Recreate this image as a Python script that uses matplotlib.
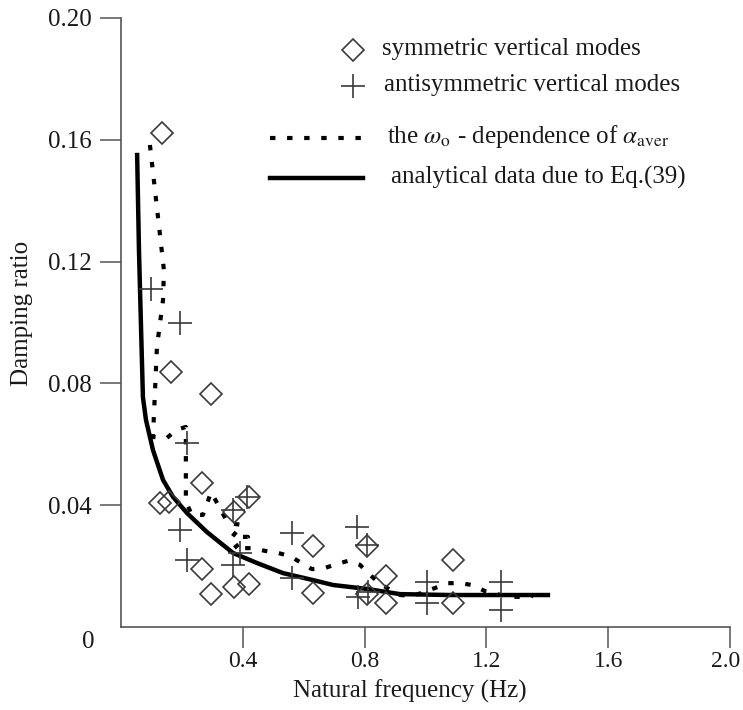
import numpy as np
import matplotlib.pyplot as plt
from matplotlib.lines import Line2D
from matplotlib.transforms import ScaledTranslation

plt.rcParams['font.family'] = ['Liberation Serif', 'DejaVu Serif']
plt.rcParams['mathtext.fontset'] = 'stix'

# symmetric vertical modes (diamonds)
sym_f = [0.135, 0.163, 0.296, 0.265, 0.128, 0.158, 0.422, 0.370, 0.632, 0.807,
         0.265, 0.296, 0.370, 0.422, 0.632, 0.807, 0.870, 0.870, 1.089, 1.089]
sym_d = [0.1622, 0.0838, 0.0765, 0.0472, 0.0406, 0.0411, 0.0428, 0.0379, 0.0266, 0.0266,
         0.0189, 0.0107, 0.0130, 0.0141, 0.0111, 0.0107, 0.0167, 0.0078, 0.0220, 0.0078]

# antisymmetric vertical modes (plus)
anti_f = [0.098, 0.194, 0.218, 0.194, 0.218, 0.367, 0.413, 0.367, 0.391, 0.561,
          0.561, 0.774, 0.807, 0.779, 0.812, 1.004, 1.004, 1.247, 1.247]
anti_d = [0.1109, 0.0999, 0.0605, 0.0319, 0.0220, 0.0384, 0.0428, 0.0204, 0.0242, 0.0308,
          0.0160, 0.0329, 0.0269, 0.0100, 0.0116, 0.0149, 0.0078, 0.0149, 0.0056]

# omega_0 dependence of alpha_aver (dotted)
avg_f = [0.095, 0.141, 0.138, 0.118, 0.105, 0.151, 0.181, 0.213, 0.213, 0.233,
         0.269, 0.296, 0.351, 0.397, 0.365, 0.417, 0.371, 0.433, 0.473, 0.516,
         0.555, 0.588, 0.627, 0.670, 0.709, 0.745, 0.785, 0.811, 0.844, 0.883,
         0.916, 0.959, 1.031, 1.074, 1.113, 1.153, 1.195, 1.271, 1.317, 1.353]
avg_d = [0.1583, 0.1172, 0.1074, 0.0920, 0.0624, 0.0621, 0.0647, 0.0657, 0.0411, 0.0368,
         0.0368, 0.0443, 0.0342, 0.0335, 0.0296, 0.0296, 0.0259, 0.0259, 0.0250, 0.0243,
         0.0233, 0.0213, 0.0190, 0.0194, 0.0207, 0.0217, 0.0204, 0.0177, 0.0148, 0.0122,
         0.0105, 0.0102, 0.0128, 0.0144, 0.0144, 0.0138, 0.0118, 0.0099, 0.0099, 0.0102]

# analytical data, Eq.(39) (solid)
eq_f = [0.053, 0.059, 0.066, 0.072, 0.082, 0.105, 0.138, 0.171, 0.217, 0.282,
        0.368, 0.447, 0.532, 0.631, 0.696, 0.808, 0.916, 1.080, 1.402]
eq_d = [0.1550, 0.1238, 0.0975, 0.0755, 0.0680, 0.0581, 0.0483, 0.0427, 0.0374, 0.0312,
        0.0243, 0.0210, 0.0177, 0.0154, 0.0138, 0.0125, 0.0108, 0.0105, 0.0105]

xticks = [0.4, 0.8, 1.2, 1.6, 2.0]
yticks = [0.04, 0.08, 0.12, 0.16, 0.20]

W, H = 743, 710
fig = plt.figure(figsize=(W / 100, H / 100), dpi=100)
L, R, B, T = 121, 730, 627, 18
ax = fig.add_axes([L / W, 1 - B / H, (R - L) / W, (B - T) / H])

gray = '#3a3a3a'
dotted = dict(color='black', lw=3.0, linestyle=(0, (1.3, 2.8)), dash_capstyle='butt')
solid = dict(color='black', lw=3.2)

ax.plot(eq_f, eq_d, **solid)
ax.plot(avg_f, avg_d, **dotted)
ax.plot(sym_f, sym_d, 'D', ms=11, mfc='none', mec=gray, mew=1.2)
ax.plot(anti_f, anti_d, '+', ms=17, mec=gray, mew=1.2)

ax.set_xlim(0, 2.0)
ax.set_ylim(0, 0.20)
ax.set_xticks(xticks)
ax.set_xticklabels(['0.4', '0.8', '1.2', '1.6', '2.0'])
ax.set_yticks(yticks)
ax.set_yticklabels(['0.04', '0.08', '0.12', '0.16', '0.20'])
for s in ['top', 'right']:
    ax.spines[s].set_visible(False)
for s in ['left', 'bottom']:
    ax.spines[s].set_color('#555555')
    ax.spines[s].set_linewidth(1.2)
ax.tick_params(direction='out', length=15, width=1.1, color='#555555',
               labelsize=18, labelcolor='#1a1a1a')
ax.tick_params(axis='y', pad=6)
ax.tick_params(axis='x', pad=2, labelsize=17)
last = ax.get_xticklabels()[-1]
last.set_transform(last.get_transform() + ScaledTranslation(-4 / 100, 0, fig.dpi_scale_trans))
ax.annotate('0', xy=(0, 0), xytext=(-33, -15), textcoords='offset pixels',
            ha='center', va='center', fontsize=18, color='#1a1a1a', annotation_clip=False)

ax.set_xlabel('Natural frequency (Hz)', fontsize=18, color='#1a1a1a')
ax.xaxis.set_label_coords((410 - L) / (R - L), (B - 680) / (B - T))
ax.set_ylabel('Damping ratio', fontsize=18, color='#1a1a1a')
ax.yaxis.set_label_coords((33 - L) / (R - L), (B - 313) / (B - T))

# hand-placed legend
def fx(px):
    return (px - L) / (R - L)

def fy(py):
    return (B - py) / (B - T)

tr = ax.transAxes
ax.plot([fx(353)], [fy(50)], 'D', ms=11, mfc='none', mec=gray, mew=1.2, transform=tr, clip_on=False)
ax.plot([fx(353)], [fy(86)], '+', ms=17, mec=gray, mew=1.2, transform=tr, clip_on=False)
ax.add_line(Line2D([fx(270), fx(363)], [fy(138), fy(138)], transform=tr, **dotted))
ax.add_line(Line2D([fx(270), fx(363)], [fy(178), fy(178)], transform=tr, **solid))
txt = dict(transform=tr, fontsize=18, va='center', ha='left', color='#1a1a1a')
ax.text(fx(382), fy(49), 'symmetric vertical modes', **txt)
ax.text(fx(384), fy(85), 'antisymmetric vertical modes', **txt)
ax.text(fx(387), fy(136), r'the $\omega_{\rm o}$ - dependence of $\alpha_{\rm aver}$', **txt)
ax.text(fx(391), fy(177), 'analytical data due to Eq.(39)', **txt)

fig.savefig('out.png', dpi=100)
